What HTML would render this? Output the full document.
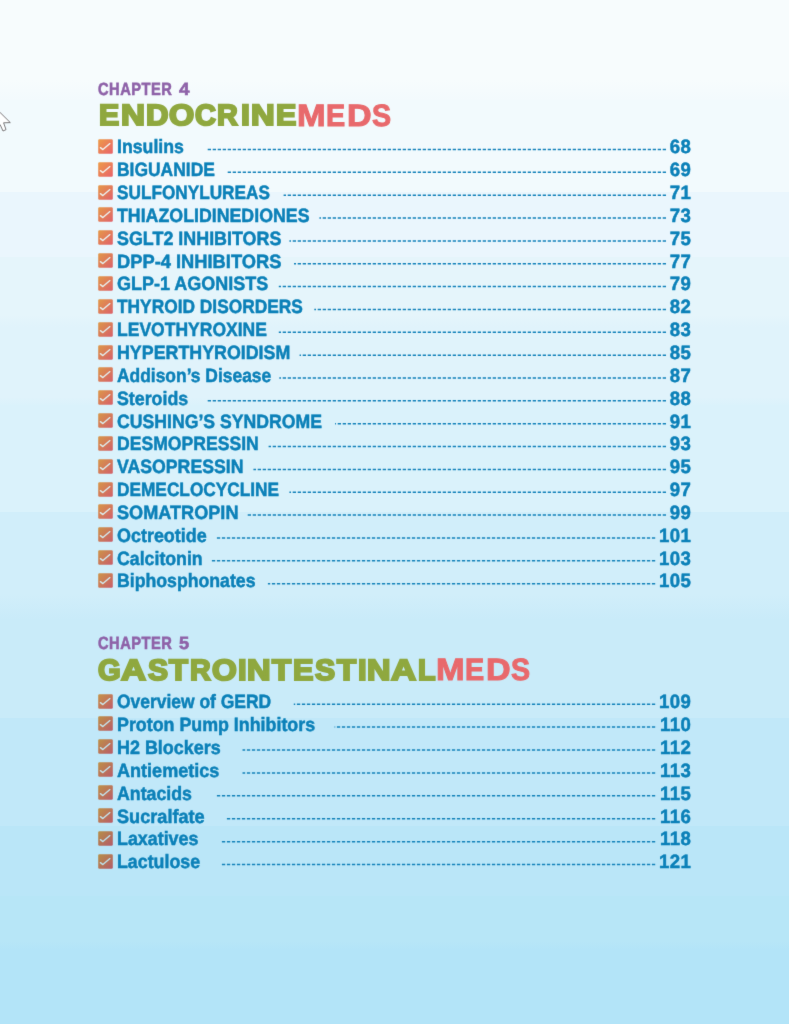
<!DOCTYPE html>
<html><head><meta charset="utf-8"><title>TOC</title>
<style>
html,body{margin:0;padding:0}
body{width:789px;height:1024px;position:relative;overflow:hidden;font-family:"Liberation Sans",sans-serif;
background:linear-gradient(180deg,#f7fcfd 0,#f7fcfd 80px,#f3fafd 100px,#f2fafd 100px,#f2fafd 192px,#eaf6fd 192px,#eaf6fd 257.5px,#e5f5fb 257.5px,#e5f5fb 315px,#e0f3fb 327px,#e0f3fb 397px,#daf2fb 406px,#daf2fb 512px,#d1eefa 512px,#d1eefa 594px,#c9ebf9 620px,#c9ebf9 718px,#c1e8f9 718px,#c1e8f9 825.7px,#bae6f8 825.7px,#bae6f8 896px,#b7e6f7 896px,#b7e6f7 941px,#b3e4f8 950px,#b3e4f8 1024px)}
.lb,.nm,.ch{text-rendering:geometricPrecision;position:absolute;white-space:nowrap;font-weight:bold}
.lb{left:117.2px;font-size:19.2px;line-height:22px;color:#0b80b8;-webkit-text-stroke:0.5px #0b80b8;transform-origin:0 0}
.nm{right:97.6px;letter-spacing:0.45px;font-size:19.2px;line-height:22px;color:#0b80b8;-webkit-text-stroke:0.5px #0b80b8;transform-origin:100% 0;transform:scaleX(0.97)}
.cb{position:absolute;left:97.75px}
.ch{font-size:17.6px;line-height:20px;letter-spacing:0.6px;color:#8e62a8;-webkit-text-stroke:0.6px #8e62a8;transform-origin:0 0}
h2{margin:0;font-size:0}
.hg,.hr{text-rendering:geometricPrecision;position:absolute;font-weight:bold;line-height:40px;transform-origin:0 0;white-space:nowrap}
.hg{font-size:29.36px;color:#8fa83f;-webkit-text-stroke:2.1px #8fa83f;text-shadow:0.5px 0 0 #8fa83f,-0.5px 0 0 #8fa83f}
.hr{font-size:30.9px;color:#e8696c;-webkit-text-stroke:1px #e8696c}
#w{position:absolute;left:0;top:0;width:789px;height:1024px;will-change:transform;filter:url(#bl)}
</style></head><body><svg width="0" height="0" style="position:absolute"><defs><filter id="bl" x="0" y="0" width="100%" height="100%" color-interpolation-filters="sRGB"><feConvolveMatrix order="3" kernelMatrix="0.006 0.07 0.006 0.07 0.696 0.07 0.006 0.07 0.006" edgeMode="none"/></filter></defs></svg><div id="w">
<svg style="position:absolute;left:0;top:100px" width="16" height="36" viewBox="0 100 16 36"><path d="M-8 104.5 L10.3 122.6 L3.6 122.8 L6 129.6 L3 131 L0 124.4 L-4 128 L-8 128 Z" fill="#fff" stroke="#6e6a6c" stroke-width="0.9" stroke-linejoin="miter"/></svg>
<div class="ch" style="left:98.49px;top:78.50px;transform:scaleX(0.833)">CHAPTER</div><div class="ch" style="left:178.70px;top:78.75px;transform:scaleX(1.070)">4</div>
<h2><div class="hg" style="left:98.70px;top:96.20px;transform:scale(1.031,1.000)">E</div><div class="hg" style="left:120.61px;top:96.20px;transform:scale(1.130,1.000)">N</div><div class="hg" style="left:145.77px;top:96.20px;transform:scale(1.058,1.000)">D</div><div class="hg" style="left:169.46px;top:96.20px;transform:scale(1.102,1.000)">O</div><div class="hg" style="left:195.28px;top:96.20px;transform:scale(0.985,1.000)">C</div><div class="hg" style="left:217.34px;top:96.20px;transform:scale(0.980,1.000)">R</div><div class="hg" style="left:241.15px;top:96.20px;transform:scale(1.082,1.000)">I</div><div class="hg" style="left:250.72px;top:96.20px;transform:scale(1.115,1.000)">N</div><div class="hg" style="left:275.69px;top:96.20px;transform:scale(1.036,1.000)">E</div><div class="hr" style="left:296.69px;top:96.00px;transform:scale(1.111,1.000)">M</div><div class="hr" style="left:326.19px;top:96.00px;transform:scale(0.932,1.000)">E</div><div class="hr" style="left:347.11px;top:96.00px;transform:scale(1.102,1.000)">D</div><div class="hr" style="left:372.25px;top:96.00px;transform:scale(0.928,1.000)">S</div></h2>
<svg class="cb" style="top:138.85px" width="15" height="15" viewBox="0 0 15 15"><defs><linearGradient id="g1" x1="0" y1="0" x2="1" y2="1"><stop offset="0" stop-color="#ed9c48"/><stop offset="1" stop-color="#e8626b"/></linearGradient></defs><rect x="0.2" y="0.2" width="14.6" height="14.6" rx="1.3" fill="url(#g1)"/><path d="M2.4 8.6 L4.9 10.6 L11.9 4.6" fill="none" stroke="#f3f3ee" stroke-width="1.35" stroke-linecap="round" stroke-linejoin="round"/></svg>
<div class="lb" style="top:137.30px;transform:scaleX(0.9228)">Insulins</div>
<div class="nm" style="top:137.30px">68</div>
<svg class="cb" style="top:161.70px" width="15" height="15" viewBox="0 0 15 15"><defs><linearGradient id="g2" x1="0" y1="0" x2="1" y2="1"><stop offset="0" stop-color="#ed9c48"/><stop offset="1" stop-color="#e8626b"/></linearGradient></defs><rect x="0.2" y="0.2" width="14.6" height="14.6" rx="1.3" fill="url(#g2)"/><path d="M2.4 8.6 L4.9 10.6 L11.9 4.6" fill="none" stroke="#f3f3ee" stroke-width="1.35" stroke-linecap="round" stroke-linejoin="round"/></svg>
<div class="lb" style="top:160.15px;transform:scaleX(0.9092)">BIGUANIDE</div>
<div class="nm" style="top:160.15px">69</div>
<svg class="cb" style="top:184.55px" width="15" height="15" viewBox="0 0 15 15"><defs><linearGradient id="g3" x1="0" y1="0" x2="1" y2="1"><stop offset="0" stop-color="#e59948"/><stop offset="1" stop-color="#e0606b"/></linearGradient></defs><rect x="0.2" y="0.2" width="14.6" height="14.6" rx="1.3" fill="url(#g3)"/><path d="M2.4 8.6 L4.9 10.6 L11.9 4.6" fill="none" stroke="#ebf0ee" stroke-width="1.35" stroke-linecap="round" stroke-linejoin="round"/></svg>
<div class="lb" style="top:183.00px;transform:scaleX(0.8964)">SULFONYLUREAS</div>
<div class="nm" style="top:183.00px">71</div>
<svg class="cb" style="top:207.40px" width="15" height="15" viewBox="0 0 15 15"><defs><linearGradient id="g4" x1="0" y1="0" x2="1" y2="1"><stop offset="0" stop-color="#e59948"/><stop offset="1" stop-color="#e0606b"/></linearGradient></defs><rect x="0.2" y="0.2" width="14.6" height="14.6" rx="1.3" fill="url(#g4)"/><path d="M2.4 8.6 L4.9 10.6 L11.9 4.6" fill="none" stroke="#ebf0ee" stroke-width="1.35" stroke-linecap="round" stroke-linejoin="round"/></svg>
<div class="lb" style="top:205.85px;transform:scaleX(0.9260)">THIAZOLIDINEDIONES</div>
<div class="nm" style="top:205.85px">73</div>
<svg class="cb" style="top:230.25px" width="15" height="15" viewBox="0 0 15 15"><defs><linearGradient id="g5" x1="0" y1="0" x2="1" y2="1"><stop offset="0" stop-color="#e59948"/><stop offset="1" stop-color="#e0606b"/></linearGradient></defs><rect x="0.2" y="0.2" width="14.6" height="14.6" rx="1.3" fill="url(#g5)"/><path d="M2.4 8.6 L4.9 10.6 L11.9 4.6" fill="none" stroke="#ebf0ee" stroke-width="1.35" stroke-linecap="round" stroke-linejoin="round"/></svg>
<div class="lb" style="top:228.70px;transform:scaleX(0.9327)">SGLT2 INHIBITORS</div>
<div class="nm" style="top:228.70px">75</div>
<svg class="cb" style="top:253.10px" width="15" height="15" viewBox="0 0 15 15"><defs><linearGradient id="g6" x1="0" y1="0" x2="1" y2="1"><stop offset="0" stop-color="#e19948"/><stop offset="1" stop-color="#db606a"/></linearGradient></defs><rect x="0.2" y="0.2" width="14.6" height="14.6" rx="1.3" fill="url(#g6)"/><path d="M2.4 8.6 L4.9 10.6 L11.9 4.6" fill="none" stroke="#e6efec" stroke-width="1.35" stroke-linecap="round" stroke-linejoin="round"/></svg>
<div class="lb" style="top:251.55px;transform:scaleX(0.9538)">DPP-4 INHIBITORS</div>
<div class="nm" style="top:251.55px">77</div>
<svg class="cb" style="top:275.95px" width="15" height="15" viewBox="0 0 15 15"><defs><linearGradient id="g7" x1="0" y1="0" x2="1" y2="1"><stop offset="0" stop-color="#e19948"/><stop offset="1" stop-color="#db606a"/></linearGradient></defs><rect x="0.2" y="0.2" width="14.6" height="14.6" rx="1.3" fill="url(#g7)"/><path d="M2.4 8.6 L4.9 10.6 L11.9 4.6" fill="none" stroke="#e6efec" stroke-width="1.35" stroke-linecap="round" stroke-linejoin="round"/></svg>
<div class="lb" style="top:274.40px;transform:scaleX(0.9371)">GLP-1 AGONISTS</div>
<div class="nm" style="top:274.40px">79</div>
<svg class="cb" style="top:298.80px" width="15" height="15" viewBox="0 0 15 15"><defs><linearGradient id="g8" x1="0" y1="0" x2="1" y2="1"><stop offset="0" stop-color="#e19948"/><stop offset="1" stop-color="#db606a"/></linearGradient></defs><rect x="0.2" y="0.2" width="14.6" height="14.6" rx="1.3" fill="url(#g8)"/><path d="M2.4 8.6 L4.9 10.6 L11.9 4.6" fill="none" stroke="#e6efec" stroke-width="1.35" stroke-linecap="round" stroke-linejoin="round"/></svg>
<div class="lb" style="top:297.25px;transform:scaleX(0.9035)">THYROID DISORDERS</div>
<div class="nm" style="top:297.25px">82</div>
<svg class="cb" style="top:321.65px" width="15" height="15" viewBox="0 0 15 15"><defs><linearGradient id="g9" x1="0" y1="0" x2="1" y2="1"><stop offset="0" stop-color="#dc9848"/><stop offset="1" stop-color="#d65f6a"/></linearGradient></defs><rect x="0.2" y="0.2" width="14.6" height="14.6" rx="1.3" fill="url(#g9)"/><path d="M2.4 8.6 L4.9 10.6 L11.9 4.6" fill="none" stroke="#e2edec" stroke-width="1.35" stroke-linecap="round" stroke-linejoin="round"/></svg>
<div class="lb" style="top:320.10px;transform:scaleX(0.9130)">LEVOTHYROXINE</div>
<div class="nm" style="top:320.10px">83</div>
<svg class="cb" style="top:344.50px" width="15" height="15" viewBox="0 0 15 15"><defs><linearGradient id="g10" x1="0" y1="0" x2="1" y2="1"><stop offset="0" stop-color="#dc9848"/><stop offset="1" stop-color="#d65f6a"/></linearGradient></defs><rect x="0.2" y="0.2" width="14.6" height="14.6" rx="1.3" fill="url(#g10)"/><path d="M2.4 8.6 L4.9 10.6 L11.9 4.6" fill="none" stroke="#e2edec" stroke-width="1.35" stroke-linecap="round" stroke-linejoin="round"/></svg>
<div class="lb" style="top:342.95px;transform:scaleX(0.9288)">HYPERTHYROIDISM</div>
<div class="nm" style="top:342.95px">85</div>
<svg class="cb" style="top:367.35px" width="15" height="15" viewBox="0 0 15 15"><defs><linearGradient id="g11" x1="0" y1="0" x2="1" y2="1"><stop offset="0" stop-color="#dc9848"/><stop offset="1" stop-color="#d65f6a"/></linearGradient></defs><rect x="0.2" y="0.2" width="14.6" height="14.6" rx="1.3" fill="url(#g11)"/><path d="M2.4 8.6 L4.9 10.6 L11.9 4.6" fill="none" stroke="#e2edec" stroke-width="1.35" stroke-linecap="round" stroke-linejoin="round"/></svg>
<div class="lb" style="top:365.80px;transform:scaleX(0.9076)">Addison’s Disease</div>
<div class="nm" style="top:365.80px">87</div>
<svg class="cb" style="top:390.20px" width="15" height="15" viewBox="0 0 15 15"><defs><linearGradient id="g12" x1="0" y1="0" x2="1" y2="1"><stop offset="0" stop-color="#dc9848"/><stop offset="1" stop-color="#d65f6a"/></linearGradient></defs><rect x="0.2" y="0.2" width="14.6" height="14.6" rx="1.3" fill="url(#g12)"/><path d="M2.4 8.6 L4.9 10.6 L11.9 4.6" fill="none" stroke="#e2edec" stroke-width="1.35" stroke-linecap="round" stroke-linejoin="round"/></svg>
<div class="lb" style="top:388.65px;transform:scaleX(0.9273)">Steroids</div>
<div class="nm" style="top:388.65px">88</div>
<svg class="cb" style="top:413.05px" width="15" height="15" viewBox="0 0 15 15"><defs><linearGradient id="g13" x1="0" y1="0" x2="1" y2="1"><stop offset="0" stop-color="#d69748"/><stop offset="1" stop-color="#d15f6a"/></linearGradient></defs><rect x="0.2" y="0.2" width="14.6" height="14.6" rx="1.3" fill="url(#g13)"/><path d="M2.4 8.6 L4.9 10.6 L11.9 4.6" fill="none" stroke="#dcecec" stroke-width="1.35" stroke-linecap="round" stroke-linejoin="round"/></svg>
<div class="lb" style="top:411.50px;transform:scaleX(0.9201)">CUSHING’S SYNDROME</div>
<div class="nm" style="top:411.50px">91</div>
<svg class="cb" style="top:435.90px" width="15" height="15" viewBox="0 0 15 15"><defs><linearGradient id="g14" x1="0" y1="0" x2="1" y2="1"><stop offset="0" stop-color="#d69748"/><stop offset="1" stop-color="#d15f6a"/></linearGradient></defs><rect x="0.2" y="0.2" width="14.6" height="14.6" rx="1.3" fill="url(#g14)"/><path d="M2.4 8.6 L4.9 10.6 L11.9 4.6" fill="none" stroke="#dcecec" stroke-width="1.35" stroke-linecap="round" stroke-linejoin="round"/></svg>
<div class="lb" style="top:434.35px;transform:scaleX(0.9172)">DESMOPRESSIN</div>
<div class="nm" style="top:434.35px">93</div>
<svg class="cb" style="top:458.75px" width="15" height="15" viewBox="0 0 15 15"><defs><linearGradient id="g15" x1="0" y1="0" x2="1" y2="1"><stop offset="0" stop-color="#d69748"/><stop offset="1" stop-color="#d15f6a"/></linearGradient></defs><rect x="0.2" y="0.2" width="14.6" height="14.6" rx="1.3" fill="url(#g15)"/><path d="M2.4 8.6 L4.9 10.6 L11.9 4.6" fill="none" stroke="#dcecec" stroke-width="1.35" stroke-linecap="round" stroke-linejoin="round"/></svg>
<div class="lb" style="top:457.20px;transform:scaleX(0.9220)">VASOPRESSIN</div>
<div class="nm" style="top:457.20px">95</div>
<svg class="cb" style="top:481.60px" width="15" height="15" viewBox="0 0 15 15"><defs><linearGradient id="g16" x1="0" y1="0" x2="1" y2="1"><stop offset="0" stop-color="#d69748"/><stop offset="1" stop-color="#d15f6a"/></linearGradient></defs><rect x="0.2" y="0.2" width="14.6" height="14.6" rx="1.3" fill="url(#g16)"/><path d="M2.4 8.6 L4.9 10.6 L11.9 4.6" fill="none" stroke="#dcecec" stroke-width="1.35" stroke-linecap="round" stroke-linejoin="round"/></svg>
<div class="lb" style="top:480.05px;transform:scaleX(0.8998)">DEMECLOCYCLINE</div>
<div class="nm" style="top:480.05px">97</div>
<svg class="cb" style="top:504.45px" width="15" height="15" viewBox="0 0 15 15"><defs><linearGradient id="g17" x1="0" y1="0" x2="1" y2="1"><stop offset="0" stop-color="#d69748"/><stop offset="1" stop-color="#d15f6a"/></linearGradient></defs><rect x="0.2" y="0.2" width="14.6" height="14.6" rx="1.3" fill="url(#g17)"/><path d="M2.4 8.6 L4.9 10.6 L11.9 4.6" fill="none" stroke="#dcecec" stroke-width="1.35" stroke-linecap="round" stroke-linejoin="round"/></svg>
<div class="lb" style="top:502.90px;transform:scaleX(0.9446)">SOMATROPIN</div>
<div class="nm" style="top:502.90px">99</div>
<svg class="cb" style="top:527.30px" width="15" height="15" viewBox="0 0 15 15"><defs><linearGradient id="g18" x1="0" y1="0" x2="1" y2="1"><stop offset="0" stop-color="#cd9448"/><stop offset="1" stop-color="#c85d6a"/></linearGradient></defs><rect x="0.2" y="0.2" width="14.6" height="14.6" rx="1.3" fill="url(#g18)"/><path d="M2.4 8.6 L4.9 10.6 L11.9 4.6" fill="none" stroke="#d3e8ec" stroke-width="1.35" stroke-linecap="round" stroke-linejoin="round"/></svg>
<div class="lb" style="top:525.75px;transform:scaleX(0.9347)">Octreotide</div>
<div class="nm" style="top:525.75px">101</div>
<svg class="cb" style="top:550.15px" width="15" height="15" viewBox="0 0 15 15"><defs><linearGradient id="g19" x1="0" y1="0" x2="1" y2="1"><stop offset="0" stop-color="#cd9448"/><stop offset="1" stop-color="#c85d6a"/></linearGradient></defs><rect x="0.2" y="0.2" width="14.6" height="14.6" rx="1.3" fill="url(#g19)"/><path d="M2.4 8.6 L4.9 10.6 L11.9 4.6" fill="none" stroke="#d3e8ec" stroke-width="1.35" stroke-linecap="round" stroke-linejoin="round"/></svg>
<div class="lb" style="top:548.60px;transform:scaleX(0.9240)">Calcitonin</div>
<div class="nm" style="top:548.60px">103</div>
<svg class="cb" style="top:573.00px" width="15" height="15" viewBox="0 0 15 15"><defs><linearGradient id="g20" x1="0" y1="0" x2="1" y2="1"><stop offset="0" stop-color="#cd9448"/><stop offset="1" stop-color="#c85d6a"/></linearGradient></defs><rect x="0.2" y="0.2" width="14.6" height="14.6" rx="1.3" fill="url(#g20)"/><path d="M2.4 8.6 L4.9 10.6 L11.9 4.6" fill="none" stroke="#d3e8ec" stroke-width="1.35" stroke-linecap="round" stroke-linejoin="round"/></svg>
<div class="lb" style="top:571.45px;transform:scaleX(0.9214)">Biphosphonates</div>
<div class="nm" style="top:571.45px">105</div>
<div class="ch" style="left:98.49px;top:633.00px;transform:scaleX(0.833)">CHAPTER</div><div class="ch" style="left:178.64px;top:633.00px;transform:scaleX(1.035)">5</div>
<h2><div class="hg" style="left:98.38px;top:651.20px;transform:scale(0.991,1.000)">G</div><div class="hg" style="left:121.19px;top:651.20px;transform:scale(1.180,1.000)">A</div><div class="hg" style="left:147.98px;top:651.20px;transform:scale(1.021,1.000)">S</div><div class="hg" style="left:169.09px;top:651.20px;transform:scale(1.053,1.000)">T</div><div class="hg" style="left:189.95px;top:651.20px;transform:scale(0.976,1.000)">R</div><div class="hg" style="left:211.76px;top:651.20px;transform:scale(1.084,1.000)">O</div><div class="hg" style="left:237.98px;top:651.20px;transform:scale(1.051,1.000)">I</div><div class="hg" style="left:247.43px;top:651.20px;transform:scale(1.110,1.000)">N</div><div class="hg" style="left:272.10px;top:651.20px;transform:scale(1.063,1.000)">T</div><div class="hg" style="left:293.49px;top:651.20px;transform:scale(1.042,1.000)">E</div><div class="hg" style="left:315.08px;top:651.20px;transform:scale(1.026,1.000)">S</div><div class="hg" style="left:336.50px;top:651.20px;transform:scale(1.063,1.000)">T</div><div class="hg" style="left:357.68px;top:651.20px;transform:scale(1.051,1.000)">I</div><div class="hg" style="left:367.23px;top:651.20px;transform:scale(1.105,1.000)">N</div><div class="hg" style="left:391.29px;top:651.20px;transform:scale(1.185,1.000)">A</div><div class="hg" style="left:417.95px;top:651.20px;transform:scale(0.974,1.000)">L</div><div class="hr" style="left:435.69px;top:650.40px;transform:scale(1.111,1.000)">M</div><div class="hr" style="left:465.19px;top:650.40px;transform:scale(0.932,1.000)">E</div><div class="hr" style="left:486.11px;top:650.40px;transform:scale(1.102,1.000)">D</div><div class="hr" style="left:511.25px;top:650.40px;transform:scale(0.928,1.000)">S</div></h2>
<svg class="cb" style="top:693.55px" width="15" height="15" viewBox="0 0 15 15"><defs><linearGradient id="g21" x1="0" y1="0" x2="1" y2="1"><stop offset="0" stop-color="#c59347"/><stop offset="1" stop-color="#c05c69"/></linearGradient></defs><rect x="0.2" y="0.2" width="14.6" height="14.6" rx="1.3" fill="url(#g21)"/><path d="M2.4 8.6 L4.9 10.6 L11.9 4.6" fill="none" stroke="#cce6eb" stroke-width="1.35" stroke-linecap="round" stroke-linejoin="round"/></svg>
<div class="lb" style="top:692.00px;transform:scaleX(0.9095)">Overview of GERD</div>
<div class="nm" style="top:692.00px">109</div>
<svg class="cb" style="top:716.46px" width="15" height="15" viewBox="0 0 15 15"><defs><linearGradient id="g22" x1="0" y1="0" x2="1" y2="1"><stop offset="0" stop-color="#bd9147"/><stop offset="1" stop-color="#b95b69"/></linearGradient></defs><rect x="0.2" y="0.2" width="14.6" height="14.6" rx="1.3" fill="url(#g22)"/><path d="M2.4 8.6 L4.9 10.6 L11.9 4.6" fill="none" stroke="#c4e3eb" stroke-width="1.35" stroke-linecap="round" stroke-linejoin="round"/></svg>
<div class="lb" style="top:714.91px;transform:scaleX(0.9292)">Proton Pump Inhibitors</div>
<div class="nm" style="top:714.91px">110</div>
<svg class="cb" style="top:739.37px" width="15" height="15" viewBox="0 0 15 15"><defs><linearGradient id="g23" x1="0" y1="0" x2="1" y2="1"><stop offset="0" stop-color="#bd9147"/><stop offset="1" stop-color="#b95b69"/></linearGradient></defs><rect x="0.2" y="0.2" width="14.6" height="14.6" rx="1.3" fill="url(#g23)"/><path d="M2.4 8.6 L4.9 10.6 L11.9 4.6" fill="none" stroke="#c4e3eb" stroke-width="1.35" stroke-linecap="round" stroke-linejoin="round"/></svg>
<div class="lb" style="top:737.82px;transform:scaleX(0.9349)">H2 Blockers</div>
<div class="nm" style="top:737.82px">112</div>
<svg class="cb" style="top:762.28px" width="15" height="15" viewBox="0 0 15 15"><defs><linearGradient id="g24" x1="0" y1="0" x2="1" y2="1"><stop offset="0" stop-color="#bd9147"/><stop offset="1" stop-color="#b95b69"/></linearGradient></defs><rect x="0.2" y="0.2" width="14.6" height="14.6" rx="1.3" fill="url(#g24)"/><path d="M2.4 8.6 L4.9 10.6 L11.9 4.6" fill="none" stroke="#c4e3eb" stroke-width="1.35" stroke-linecap="round" stroke-linejoin="round"/></svg>
<div class="lb" style="top:760.73px;transform:scaleX(0.9415)">Antiemetics</div>
<div class="nm" style="top:760.73px">113</div>
<svg class="cb" style="top:785.19px" width="15" height="15" viewBox="0 0 15 15"><defs><linearGradient id="g25" x1="0" y1="0" x2="1" y2="1"><stop offset="0" stop-color="#bd9147"/><stop offset="1" stop-color="#b95b69"/></linearGradient></defs><rect x="0.2" y="0.2" width="14.6" height="14.6" rx="1.3" fill="url(#g25)"/><path d="M2.4 8.6 L4.9 10.6 L11.9 4.6" fill="none" stroke="#c4e3eb" stroke-width="1.35" stroke-linecap="round" stroke-linejoin="round"/></svg>
<div class="lb" style="top:783.64px;transform:scaleX(0.9254)">Antacids</div>
<div class="nm" style="top:783.64px">115</div>
<svg class="cb" style="top:808.10px" width="15" height="15" viewBox="0 0 15 15"><defs><linearGradient id="g26" x1="0" y1="0" x2="1" y2="1"><stop offset="0" stop-color="#bd9147"/><stop offset="1" stop-color="#b95b69"/></linearGradient></defs><rect x="0.2" y="0.2" width="14.6" height="14.6" rx="1.3" fill="url(#g26)"/><path d="M2.4 8.6 L4.9 10.6 L11.9 4.6" fill="none" stroke="#c4e3eb" stroke-width="1.35" stroke-linecap="round" stroke-linejoin="round"/></svg>
<div class="lb" style="top:806.55px;transform:scaleX(0.9452)">Sucralfate</div>
<div class="nm" style="top:806.55px">116</div>
<svg class="cb" style="top:831.01px" width="15" height="15" viewBox="0 0 15 15"><defs><linearGradient id="g27" x1="0" y1="0" x2="1" y2="1"><stop offset="0" stop-color="#b68f47"/><stop offset="1" stop-color="#b25a69"/></linearGradient></defs><rect x="0.2" y="0.2" width="14.6" height="14.6" rx="1.3" fill="url(#g27)"/><path d="M2.4 8.6 L4.9 10.6 L11.9 4.6" fill="none" stroke="#bde1ea" stroke-width="1.35" stroke-linecap="round" stroke-linejoin="round"/></svg>
<div class="lb" style="top:829.46px;transform:scaleX(0.9306)">Laxatives</div>
<div class="nm" style="top:829.46px">118</div>
<svg class="cb" style="top:853.92px" width="15" height="15" viewBox="0 0 15 15"><defs><linearGradient id="g28" x1="0" y1="0" x2="1" y2="1"><stop offset="0" stop-color="#b68f47"/><stop offset="1" stop-color="#b25a69"/></linearGradient></defs><rect x="0.2" y="0.2" width="14.6" height="14.6" rx="1.3" fill="url(#g28)"/><path d="M2.4 8.6 L4.9 10.6 L11.9 4.6" fill="none" stroke="#bde1ea" stroke-width="1.35" stroke-linecap="round" stroke-linejoin="round"/></svg>
<div class="lb" style="top:852.37px;transform:scaleX(0.9277)">Lactulose</div>
<div class="nm" style="top:852.37px">121</div>
<svg style="position:absolute;left:0;top:0" width="789" height="1024" viewBox="0 0 789 1024" fill="none" stroke="#1583ba" stroke-width="1.5" stroke-dasharray="3.3 1.7">
<path d="M666.0 149.50H207.0"/>
<path d="M666.0 172.35H227.3"/>
<path d="M666.0 195.20H283.6"/>
<path d="M666.0 218.05H319.4"/>
<path d="M666.0 240.90H289.4"/>
<path d="M666.0 263.75H294.0"/>
<path d="M666.0 286.60H278.8"/>
<path d="M666.0 309.45H314.3"/>
<path d="M666.0 332.30H278.8"/>
<path d="M666.0 355.15H299.6"/>
<path d="M666.0 378.00H279.3"/>
<path d="M666.0 400.85H207.5"/>
<path d="M666.0 423.70H335.1"/>
<path d="M666.0 446.55H268.6"/>
<path d="M666.0 469.40H253.4"/>
<path d="M666.0 492.25H289.4"/>
<path d="M666.0 515.10H247.6"/>
<path d="M655.2 537.95H216.3"/>
<path d="M655.2 560.80H211.5"/>
<path d="M655.2 583.65H267.9"/>
<path d="M655.2 704.20H293.8"/>
<path d="M655.2 727.11H334.6"/>
<path d="M655.2 750.02H242.5"/>
<path d="M655.2 772.93H242.5"/>
<path d="M655.2 795.84H216.6"/>
<path d="M655.2 818.75H226.8"/>
<path d="M655.2 841.66H221.7"/>
<path d="M655.2 864.57H221.7"/>
</svg>
</div></body></html>
